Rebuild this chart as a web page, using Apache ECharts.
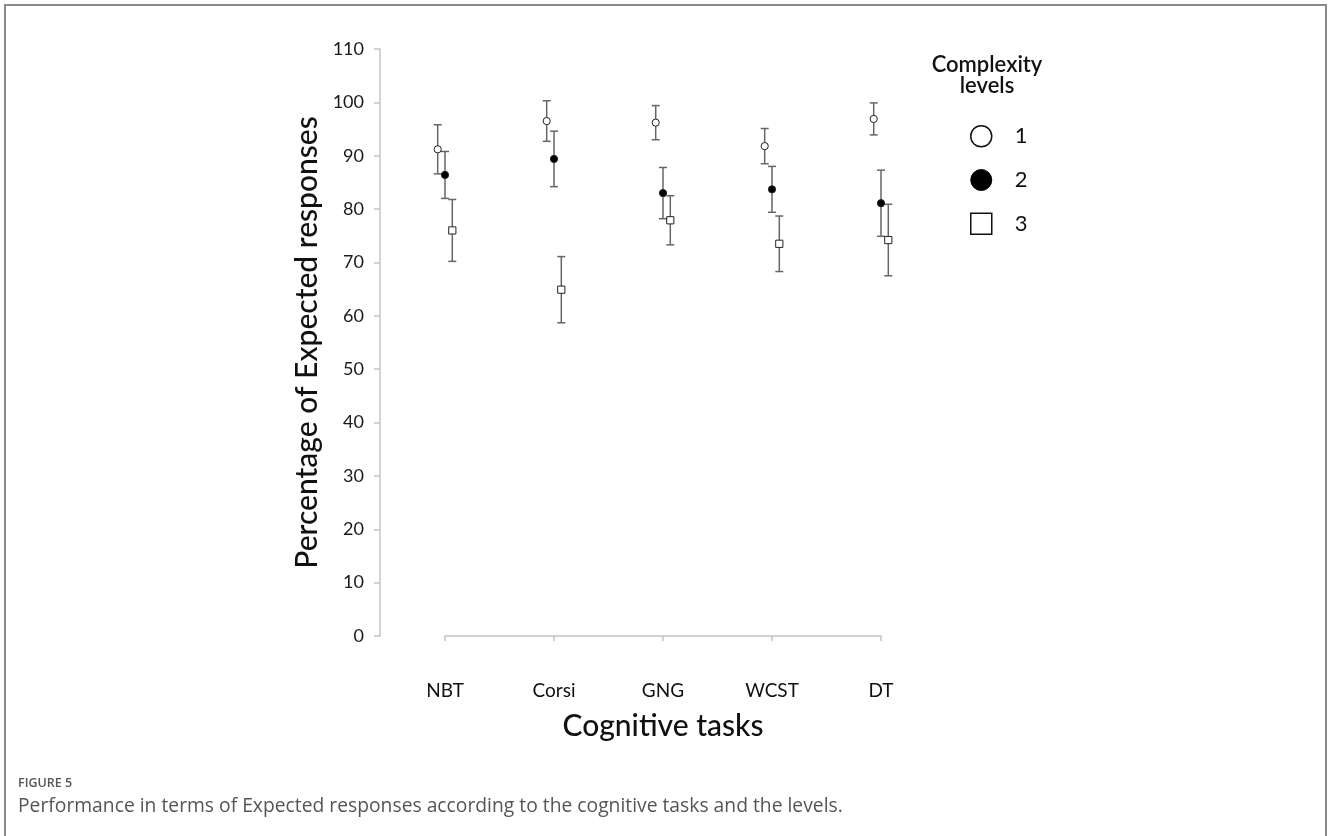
<!DOCTYPE html>
<html>
<head>
<meta charset="utf-8">
<script src="https://cdn.jsdelivr.net/npm/echarts@6/dist/echarts.min.js"></script>
<style>
html,body{margin:0;padding:0;background:#fff;}
#chart{width:1328px;height:836px;}
</style>
</head>
<body>
<div id="chart"></div>
<script>
// ---- data ----
const categories = ['NBT', 'Corsi', 'GNG', 'WCST', 'DT'];
const levelNames = ['1', '2', '3'];
const mean1 = [91.2, 96.5, 96.2, 91.8, 96.9];
const sd1   = [4.6, 3.8, 3.2, 3.3, 3.0];
const mean2 = [86.4, 89.4, 83.0, 83.7, 81.1];
const sd2   = [4.4, 5.2, 4.8, 4.3, 6.2];
const mean3 = [76.0, 64.9, 77.9, 73.5, 74.2];
const sd3   = [5.8, 6.2, 4.6, 5.2, 6.7];
const yTicks = [0, 10, 20, 30, 40, 50, 60, 70, 80, 90, 100, 110];

const chart = echarts.init(document.getElementById('chart'), null, {renderer: 'canvas'});

const styles = [
  {dx: -7.3, shape: 'circle', fill: '#fff'},
  {dx: 0, shape: 'circle', fill: '#000'},
  {dx: 7.3, shape: 'square', fill: '#fff'}
];

function buildData(means, sds) {
  return means.map((m, i) => [i, m, m - sds[i], m + sds[i]]);
}

function makeRender(st) {
  return function (params, api) {
    const x = api.value(0), m = api.value(1), lo = api.value(2), hi = api.value(3);
    const p = api.coord([x, m]);
    const ph = api.coord([x, hi]);
    const pl = api.coord([x, lo]);
    const cx = p[0] + st.dx;
    const barStyle = {stroke: '#666', lineWidth: 1.5};
    const children = [
      {type: 'line', shape: {x1: cx, y1: ph[1], x2: cx, y2: pl[1]}, style: barStyle},
      {type: 'line', shape: {x1: cx - 4, y1: ph[1], x2: cx + 4, y2: ph[1]}, style: barStyle},
      {type: 'line', shape: {x1: cx - 4, y1: pl[1], x2: cx + 4, y2: pl[1]}, style: barStyle}
    ];
    if (st.shape === 'circle') {
      children.push({type: 'circle', shape: {cx: cx, cy: p[1], r: 3.6},
        style: {fill: st.fill, stroke: '#222', lineWidth: 1}, z2: 10});
    } else {
      children.push({type: 'rect', shape: {x: cx - 3.6, y: p[1] - 3.6, width: 7.2, height: 7.2},
        style: {fill: st.fill, stroke: '#222', lineWidth: 1}, z2: 10});
    }
    return {type: 'group', children: children};
  };
}

const allMeans = [mean1, mean2, mean3];
const allSds = [sd1, sd2, sd3];
const series = levelNames.map((name, k) => ({
  name: name,
  type: 'custom',
  renderItem: makeRender(styles[k]),
  encode: {x: 0, y: 1},
  data: buildData(allMeans[k], allSds[k]),
  itemStyle: {color: styles[k].fill, borderColor: '#000'},
  clip: false
}));

const option = {
  backgroundColor: '#fff',
  animation: false,
  title: {
    text: 'Complexity\nlevels',
    left: 982, top: 49,
    textAlign: 'center',
    textStyle: {fontFamily: 'Lato', fontSize: 22, fontWeight: 600, color: '#111', lineHeight: 21}
  },
  legend: {
    orient: 'vertical',
    left: 965, top: 120,
    itemWidth: 21, itemHeight: 21,
    itemGap: 21.5,
    data: [
      {name: '1', icon: 'circle', itemStyle: {color: '#fff', borderColor: '#111', borderWidth: 1.5}},
      {name: '2', icon: 'circle', itemStyle: {color: '#000', borderColor: '#000', borderWidth: 1}},
      {name: '3', icon: 'rect', itemStyle: {color: '#fff', borderColor: '#111', borderWidth: 1.5}}
    ],
    textStyle: {fontFamily: 'Lato', fontSize: 22, color: '#111', padding: [0, 0, 0, 18]},
    selectedMode: false
  },
  grid: {left: 445, right: 447, top: 49, bottom: 200, outerBoundsMode: 'none'},
  xAxis: {
    type: 'category',
    data: categories,
    boundaryGap: false,
    offset: 30,
    axisLine: {lineStyle: {color: '#c4c4c4', width: 1.5}},
    axisTick: {alignWithLabel: true, length: 5, lineStyle: {color: '#c4c4c4', width: 1.5}},
    axisLabel: {fontFamily: 'Lato', fontSize: 19, color: '#111', margin: 15},
    name: 'Cognitive tasks',
    nameLocation: 'middle',
    nameGap: 45,
    nameTextStyle: {fontFamily: 'Lato', fontSize: 30, fontWeight: 500, color: '#111'},
    splitLine: {show: false}
  },
  yAxis: {
    type: 'value',
    min: 0, max: 110, interval: 10,
    offset: 65,
    axisLine: {show: true, lineStyle: {color: '#c4c4c4', width: 1.5}},
    axisTick: {show: true, length: 6, lineStyle: {color: '#c4c4c4', width: 1.5}},
    axisLabel: {fontFamily: 'Lato', fontSize: 18, color: '#1a1a1a', margin: 16,
      formatter: v => yTicks.indexOf(v) >= 0 ? String(v) : ''},
    splitLine: {show: false},
    name: 'Percentage of Expected responses',
    nameLocation: 'middle',
    nameGap: 58,
    nameTextStyle: {fontFamily: 'Lato', fontSize: 30, fontWeight: 500, color: '#111'}
  },
  graphic: [
    {type: 'polyline', shape: {points: [[5, 836], [5, 5], [1326, 5], [1326, 836]]},
      style: {stroke: '#8a8a8a', lineWidth: 2, fill: null}, silent: true},
    {type: 'text', left: 18, top: 777,
      style: {text: 'FIGURE 5', font: '600 12.5px "Open Sans"', fill: '#555'}},
    {type: 'text', left: 18, top: 797,
      style: {text: 'Performance in terms of Expected responses according to the cognitive tasks and the levels.',
        font: '19.3px "Open Sans"', fill: '#555'}}
  ],
  series: series
};

chart.setOption(option);
</script>
</body>
</html>
